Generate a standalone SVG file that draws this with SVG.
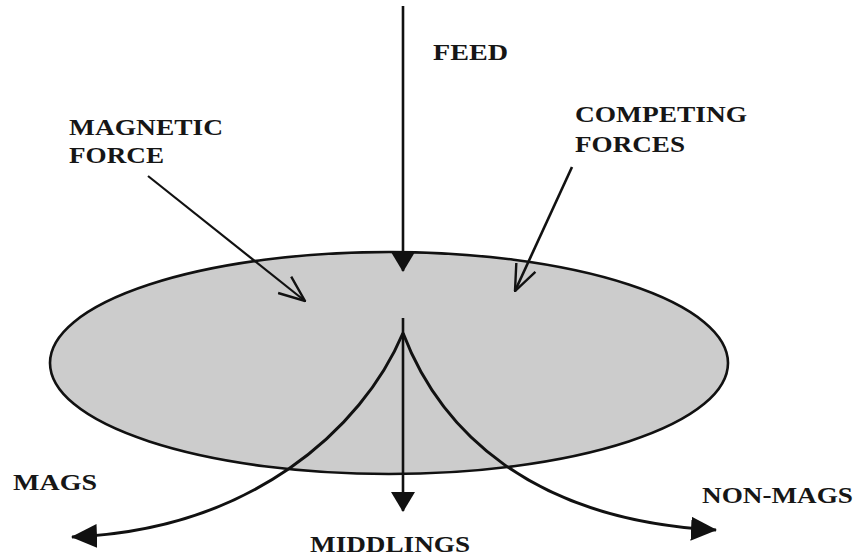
<svg xmlns="http://www.w3.org/2000/svg" width="858" height="559" viewBox="0 0 858 559">
<style>
.lbl{font-family:"Liberation Serif","Times New Roman",serif;font-weight:bold;font-size:22.5px;fill:#161616}
.ln{fill:none;stroke:#111;stroke-width:2.6}
.crv{fill:none;stroke:#111;stroke-width:3}
.thin{fill:none;stroke:#111;stroke-width:2.2}
</style>
<defs>
<marker id="tri" viewBox="0 0 20 24" markerWidth="20" markerHeight="24" refX="19" refY="12" orient="auto" markerUnits="userSpaceOnUse">
<path d="M0,0 L20,12 L0,24 z" fill="#111"/>
</marker>
<marker id="tri2" viewBox="0 0 26 24" markerWidth="26" markerHeight="24" refX="25" refY="12" orient="auto" markerUnits="userSpaceOnUse">
<path d="M0,0 L26,12 L0,24 z" fill="#111"/>
</marker>
<marker id="vee" viewBox="0 0 28 24" markerWidth="28" markerHeight="24" refX="27" refY="12" orient="auto" markerUnits="userSpaceOnUse">
<path d="M1,1.5 L27,12 L1,22.5" fill="none" stroke="#111" stroke-width="2.4"/>
</marker>
</defs>
<rect width="858" height="559" fill="#fff"/>
<g id="separator">
<ellipse cx="389" cy="363" rx="339" ry="111" fill="#cccccc" stroke="#111" stroke-width="2.6"/>
</g>
<g id="connectors">
<path id="feed-arrow" class="ln" d="M403,6 L403,271" marker-end="url(#tri)"/>
<path id="magnetic-arrow" class="thin" d="M148,176 L305,301" marker-end="url(#vee)"/>
<path id="competing-arrow" class="ln" d="M572,167 L515,291" marker-end="url(#vee)"/>
<path id="middlings-arrow" class="ln" d="M403,318 L403,511" marker-end="url(#tri)"/>
<path id="mags-curve" class="crv" d="M403,333 C362,430 250,530 72,537" marker-end="url(#tri2)"/>
<path id="nonmags-curve" class="crv" d="M403,333 C440,430 530,520 716,530" marker-end="url(#tri2)"/>
</g>
<g id="label-feed"><text class="lbl" x="433" y="60" textLength="75" lengthAdjust="spacingAndGlyphs">FEED</text></g>
<g id="label-magnetic-force">
<text class="lbl" x="69" y="135" textLength="154" lengthAdjust="spacingAndGlyphs">MAGNETIC</text>
<text class="lbl" x="69" y="163" textLength="95" lengthAdjust="spacingAndGlyphs">FORCE</text>
</g>
<g id="label-competing-forces">
<text class="lbl" x="575" y="122" textLength="172" lengthAdjust="spacingAndGlyphs">COMPETING</text>
<text class="lbl" x="575" y="152" textLength="110" lengthAdjust="spacingAndGlyphs">FORCES</text>
</g>
<g id="label-mags"><text class="lbl" x="13" y="490" textLength="84" lengthAdjust="spacingAndGlyphs">MAGS</text></g>
<g id="label-middlings"><text class="lbl" x="310" y="552" textLength="160" lengthAdjust="spacingAndGlyphs">MIDDLINGS</text></g>
<g id="label-nonmags"><text class="lbl" x="702" y="503" textLength="151" lengthAdjust="spacingAndGlyphs">NON-MAGS</text></g>
</svg>
